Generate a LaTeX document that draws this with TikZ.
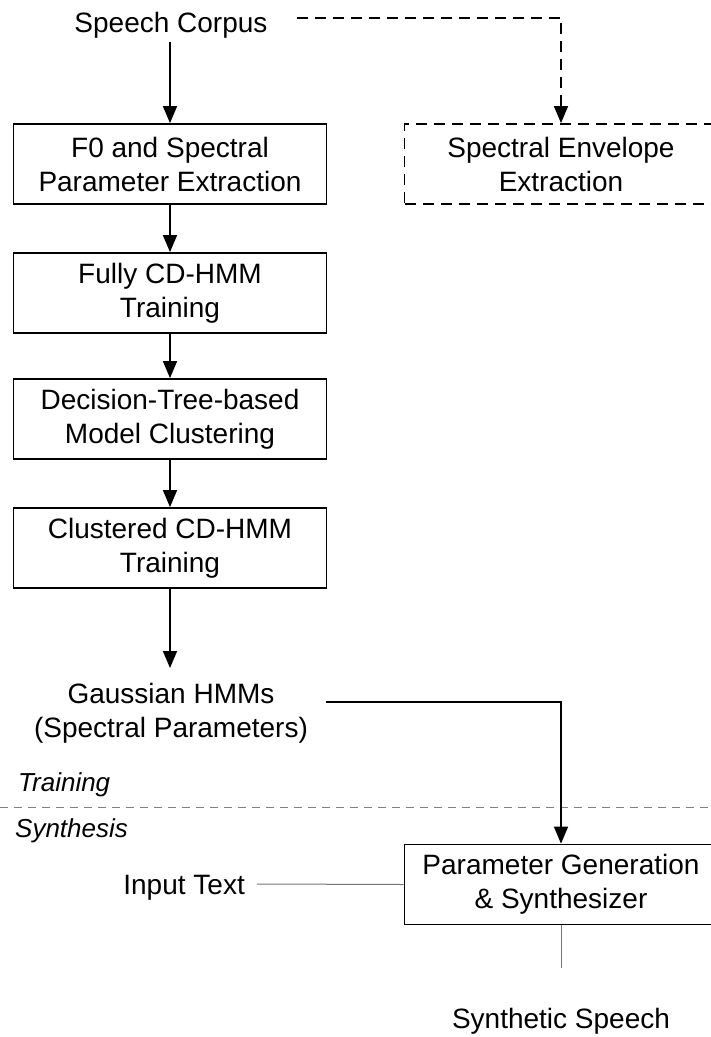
\documentclass[tikz,border=0pt]{standalone}
\usepackage{fontspec}
\setmainfont{Liberation Sans}
\usetikzlibrary{arrows.meta}
\begin{document}
\begin{tikzpicture}[x=1pt,y=-1pt,
  txt/.style={font=\fontsize{28}{34}\selectfont, inner sep=0pt, align=center},
  itxt/.style={font=\fontsize{26}{30}\selectfont\itshape, inner sep=0pt},
  procbox/.style={draw, line width=1.8pt, minimum width=313pt, minimum height=80pt,
    font=\fontsize{28}{34}\selectfont, align=center, inner sep=0pt},
  dbox/.style={procbox, dash pattern=on 11pt off 7pt},
  arr/.style={line width=1.6pt, -{Triangle[length=17pt,width=14pt]}},
  darr/.style={arr, dash pattern=on 11pt off 7pt},
  thin/.style={line width=1pt, draw=black!55}
]
\useasboundingbox (0,0) rectangle (711,1037);
\clip (0,0) rectangle (711,1037);

\node[txt, anchor=base] (corpus) at (171,32) {Speech Corpus};
\node[procbox] (b1) at (170,164) {F0 and Spectral\\Parameter Extraction};
\node[procbox] (b2) at (170,293) {Fully CD-HMM\\Training};
\node[procbox] (b3) at (170,419) {Decision-Tree-based\\Model Clustering};
\node[procbox] (b4) at (170,548) {Clustered CD-HMM\\Training};
\node[dbox] (senv) at (561,164) {Spectral Envelope\\Extraction};
\node[txt, anchor=north] (gauss) at (171,683) {Gaussian HMMs\\(Spectral Parameters)};
\node[procbox] (param) at (561,884.5) {Parameter Generation\\\& Synthesizer};
\node[txt, anchor=base east] (input) at (245,894) {Input Text};
\node[txt, anchor=base] (synth) at (561,1028) {Synthetic Speech};
\node[itxt, anchor=base west] (train) at (18,791) {Training};
\node[itxt, anchor=base west] (synthesis) at (15,837) {Synthesis};

\coordinate (sepL) at (0,807);
\coordinate (sepR) at (711,807);
\coordinate (sEnd) at (561,968);

\draw[line width=1pt, draw=black!50, dash pattern=on 8pt off 6pt] (sepL) -- (sepR);

\draw[arr] ([yshift=-4pt]corpus.south -| b1.north) -- (b1.north);
\draw[darr] ([xshift=29pt,yshift=7pt]corpus.east) -| (senv.north);
\draw[arr] (b1.south) -- (b2.north);
\draw[arr] (b2.south) -- (b3.north);
\draw[arr] (b3.south) -- (b4.north);
\draw[arr] (b4.south) -- ([yshift=15pt]gauss.north -| b4.south);
\draw[arr] ([xshift=18pt,yshift=-19pt]gauss.north east) -| (param.north);
\draw[thin] ([xshift=12pt,yshift=10pt]input.base east) -- (param.west);
\draw[thin] (param.south) -- (sEnd);
\end{tikzpicture}
\end{document}
